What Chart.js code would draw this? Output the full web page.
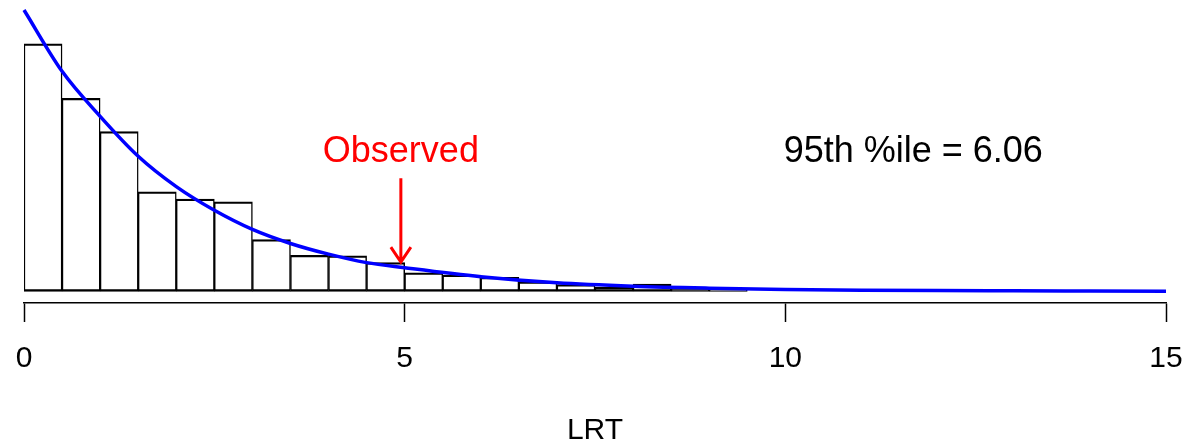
<!DOCTYPE html>
<html>
<head>
<meta charset="utf-8">
<title>LRT null distribution</title>
<script src="https://cdn.jsdelivr.net/npm/chart.js@4/dist/chart.umd.min.js"></script>
<style>
  html, body { margin: 0; padding: 0; background: #fff; }
  #wrap { width: 1188px; height: 447px; }
</style>
</head>
<body>
<div id="wrap"><canvas id="lrtChart"></canvas></div>
<script>
// histogram bins (LRT, width 0.5) and their density heights
const binStarts = [0, 0.5, 1, 1.5, 2, 2.5, 3, 3.5, 4, 4.5, 5, 5.5, 6, 6.5, 7, 7.5, 8, 8.5, 9];
const binDensity = [0.440, 0.343, 0.284, 0.177, 0.164, 0.159, 0.092, 0.064, 0.063, 0.051,
                    0.033, 0.029, 0.025, 0.017, 0.012, 0.0075, 0.013, 0.0045, 0.002];

// fitted density curve
const curveX = [0, 0.5, 1, 1.5, 2, 2.5, 3, 3.5, 4, 4.5, 5, 6, 7, 8, 9, 10, 11, 12, 13, 14, 15];
const curveY = [0.500, 0.391, 0.311, 0.240, 0.186, 0.144, 0.110, 0.085, 0.066, 0.051, 0.042,
                0.026, 0.015, 0.009, 0.0056, 0.0034, 0.002, 0.0012, 0.0008, 0.0005, 0.0003];

const xTicks = [0, 5, 10, 15];
const observed = 4.95;
const pctLabel = "95th %ile = 6.06";

const FONT = "'Liberation Sans', Arial, Helvetica, sans-serif";

document.addEventListener("DOMContentLoaded", function () {

    drawChart();

});

function drawChart() {

    const ctx = document.getElementById("lrtChart").getContext("2d");

    const histData = binStarts.map((s, i) => ({ x: s + 0.25, y: binDensity[i] }));
    const curveData = curveX.map((x, i) => ({ x: x, y: curveY[i] }));

    // text + arrow drawn in data coordinates
    const notes = {
        id: "notes",
        afterDatasetsDraw(chart) {
            const c = chart.ctx;
            const sx = chart.scales.x;
            const sy = chart.scales.y;

            c.save();
            c.textAlign = "center";
            c.textBaseline = "middle";
            c.font = "36px " + FONT;

            c.fillStyle = "#ff0000";
            c.fillText("Observed", sx.getPixelForValue(observed), sy.getPixelForValue(0.247));

            c.fillStyle = "#000000";
            c.fillText(pctLabel, sx.getPixelForValue(11.68), sy.getPixelForValue(0.247));

            // arrow
            const ax = sx.getPixelForValue(observed);
            const y0 = sy.getPixelForValue(0.201);
            const y1 = sy.getPixelForValue(0.052);
            c.strokeStyle = "#ff0000";
            c.lineWidth = 3;
            c.lineCap = "butt";
            c.beginPath();
            c.moveTo(ax, y0);
            c.lineTo(ax, y1);
            c.moveTo(ax - 10, y1 - 15);
            c.lineTo(ax, y1);
            c.lineTo(ax + 10, y1 - 15);
            c.stroke();
            c.restore();
        }
    };

    new Chart(ctx, {

        type: "bar",

        data: {
            datasets: [{
                type: "line",
                data: curveData,
                borderColor: "#0000ff",
                borderWidth: 3.5,
                pointRadius: 0,
                cubicInterpolationMode: "monotone",
                fill: false,
                clip: false,
                order: 0
            }, {
                type: "bar",
                data: histData,
                backgroundColor: "rgba(255,255,255,0)",
                borderColor: "#000000",
                borderWidth: { top: 1.6, bottom: 1.6, left: 0.8, right: 0.8 },
                borderSkipped: false,
                barPercentage: 1,
                categoryPercentage: 1,
                order: 1
            }]
        },

        options: {
            responsive: true,
            maintainAspectRatio: false,
            animation: false,
            layout: { padding: { left: 24, right: 22, top: 10, bottom: 0 } },
            plugins: {
                legend: { display: false },
                tooltip: { enabled: false }
            },
            scales: {
                x: {
                    type: "linear",
                    min: 0,
                    max: 15,
                    offset: false,
                    afterBuildTicks: axis => { axis.ticks = xTicks.map(v => ({ value: v })); },
                    afterFit: axis => { axis.paddingLeft = 0; axis.paddingRight = 0; },
                    grid: {
                        drawOnChartArea: false,
                        drawTicks: true,
                        tickLength: 19,
                        tickWidth: 1.5,
                        tickColor: "#000",
                        offset: false
                    },
                    border: { display: true, color: "#000", width: 1.5 },
                    ticks: {
                        color: "#000",
                        padding: 19,
                        maxRotation: 0,
                        font: { family: FONT, size: 30 }
                    },
                    title: {
                        display: true,
                        text: "LRT",
                        color: "#000",
                        font: { family: FONT, size: 30, lineHeight: 1.1 },
                        padding: { top: 18, bottom: 0 }
                    }
                },
                y: {
                    display: false,
                    min: -0.0208,
                    max: 0.5
                }
            }
        },

        plugins: [notes]

    });

}
</script>
</body>
</html>
